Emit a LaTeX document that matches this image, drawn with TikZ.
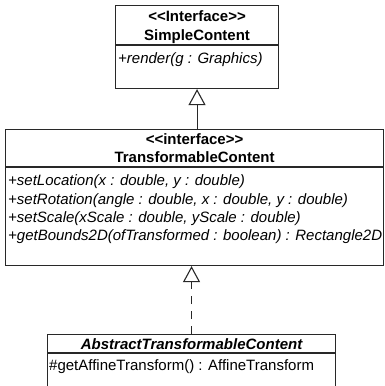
\documentclass[tikz,border=0pt]{standalone}
\usepackage{fontspec}
\setmainfont{Liberation Sans}
\usepackage{tikz}
\usetikzlibrary{positioning,arrows.meta,calc}
\definecolor{UmlLine}{RGB}{40,40,40}

\begin{document}
\begin{tikzpicture}[
  x=1pt, y=-1pt,
  font=\fontsize{15}{18.5}\selectfont,
  cls/.style={draw=UmlLine,line width=1.1pt,fill=white,anchor=north west,inner sep=0pt},
  ttl/.style={inner sep=0pt,anchor=base,font=\fontsize{15}{18.5}\selectfont\bfseries},
  mth/.style={inner sep=0pt,anchor=base west,font=\fontsize{15}{18.5}\selectfont\itshape},
  op/.style={inner sep=0pt,anchor=base west},
  sep/.style={draw=UmlLine,line width=1.1pt},
  impl/.style={-{Triangle[open,length=16pt,width=17pt]},draw=UmlLine,line width=1.1pt}
]
\clip (0,0) rectangle (384,386);
\fill[white] (0,0) rectangle (384,386);

% class boxes
\node[cls,minimum width=163pt,minimum height=83pt] (simple) at (115,5) {};
\node[cls,minimum width=378pt,minimum height=136pt] (trans) at (5,129) {};
\node[cls,minimum width=288pt,minimum height=70pt] (abstr) at (47,334) {};

% SimpleContent
\node[ttl] (simpleSt) at ($(simple.north)+(0,16)$) {{<}{<}Interface{>}{>}};
\node[ttl] (simpleNm) at ($(simple.north)+(0,35)$) {SimpleContent};
\draw[sep] ($(simple.north west)+(0,40)$) -- ($(simple.north east)+(0,40)$);
\node[mth] (render) at ($(simple.north west)+(3,58)$) {+render(g : Graphics)};

% TransformableContent
\node[ttl] (transSt) at ($(trans.north)+(0,15)$) {{<}{<}interface{>}{>}};
\node[ttl] (transNm) at ($(trans.north)+(0,33)$) {TransformableContent};
\draw[sep] ($(trans.north west)+(0,38)$) -- ($(trans.north east)+(0,38)$);
\node[mth] (setloc) at ($(trans.north west)+(3,56)$) {+setLocation(x : double, y : double)};
\node[mth] (setrot) at ($(trans.north west)+(3,75)$) {+setRotation(angle : double, x : double, y : double)};
\node[mth] (setscl) at ($(trans.north west)+(3,93)$) {+setScale(xScale : double, yScale : double)};
\node[mth] (getbnd) at ($(trans.north west)+(3,111)$) {+getBounds2D(ofTransformed : boolean) : Rectangle2D};

% AbstractTransformableContent
\node[ttl,font=\fontsize{15}{18.5}\selectfont\bfseries\itshape] (abstrNm) at ($(abstr.north)+(0,15)$) {AbstractTransformableContent};
\draw[sep] ($(abstr.north west)+(0,19)$) -- ($(abstr.north east)+(0,19)$);
\node[op] (affine) at ($(abstr.north west)+(2,36)$) {\#getAffineTransform() : AffineTransform};

% relations
\draw[impl] (trans.north -| simple.south) -- (simple.south);
\draw[impl,dash pattern=on 8pt off 7pt] (abstr.north) -- (abstr.north |- trans.south);
\end{tikzpicture}
\end{document}
